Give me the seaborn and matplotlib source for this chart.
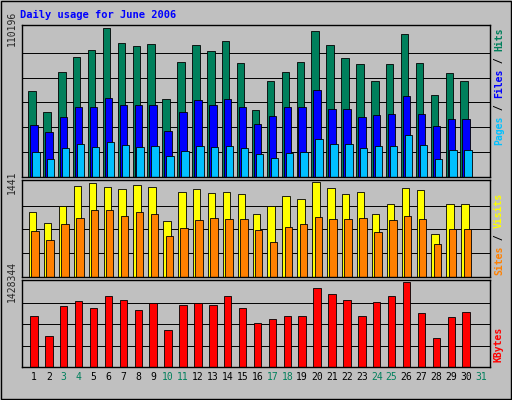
import numpy as np
import matplotlib
matplotlib.use("Agg")
import matplotlib.pyplot as plt
import seaborn as sns

days = np.arange(1, 31)
hits = [63300, 48400, 77500, 88700, 93900, 110196, 99100, 96900, 98300, 57400,
        84900, 97600, 93100, 100600, 84200, 49200, 70800, 77500, 84900, 108000,
        97600, 87900, 83400, 70800, 83400, 105800, 84200, 60300, 76700, 70800]
files = [38700, 33500, 44700, 51400, 52100, 58100, 53600, 53600, 53600, 34300,
         47700, 56600, 52900, 57400, 51400, 39500, 45400, 51400, 51400, 64000,
         50600, 50600, 44700, 46200, 46900, 59600, 46900, 38000, 43200, 43200]
pages = [18600, 13400, 21600, 24600, 22300, 26100, 23800, 22300, 23100, 15600,
         19400, 23100, 22300, 23100, 21600, 17100, 14200, 17900, 18600, 28300,
         24600, 24600, 21600, 23100, 23100, 31300, 23800, 13400, 20100, 20100]
visits = [990, 820, 1070, 1380, 1430, 1360, 1330, 1390, 1360, 850,
          1290, 1330, 1270, 1290, 1260, 960, 1070, 1220, 1180, 1441,
          1350, 1260, 1290, 950, 1100, 1350, 1320, 650, 1100, 1100]
sites = [700, 560, 810, 900, 1020, 1010, 930, 980, 950, 620,
         740, 870, 900, 880, 880, 710, 530, 760, 810, 910,
         880, 880, 900, 680, 870, 930, 880, 500, 730, 730]
kbytes = [860000, 516000, 1015000, 1101000, 981000, 1187000, 1119000, 947000, 1067000, 620000,
          1033000, 1067000, 1033000, 1187000, 981000, 740000, 809000, 860000, 860000, 1325000,
          1222000, 1119000, 860000, 1084000, 1187000, 1428344, 912000, 482000, 843000, 929000]
weekend = [3, 4, 10, 11, 17, 18, 24, 25, 31]

sns.set_style("white")
plt.rcParams['font.family'] = ['DejaVu Sans Mono']
bg = "#c0c0c0"
fig = plt.figure(figsize=(5.12, 4.0), dpi=100, facecolor=bg)

W, H = 512, 400
def make_ax(top, bot):
    ax = fig.add_axes([22 / W, (H - bot) / H, 468 / W, (bot - top) / H])
    ax.set_facecolor(bg)
    for s in ax.spines.values():
        s.set_color("black")
        s.set_linewidth(1)
    ax.tick_params(length=0)
    return ax

def bars(ax, vals, off, color):
    sns.barplot(x=days + off, y=vals, native_scale=True, width=0.5,
                color=color, edgecolor="black", linewidth=0.6, saturation=1, ax=ax)

def grid(ax, vmax, n):
    for k in range(1, n):
        ax.axhline(vmax * k / n, color="black", lw=0.7, zorder=0)

def finish(ax, vmax):
    ax.set_ylim(0, vmax * 1.02)
    ax.set_yticks([vmax])
    ax.set_yticklabels([f"{vmax}"], rotation=90, va="center", fontsize=7)
    ax.set_ylabel("")
    ax.set_xlabel("")
    ax.set_xlim(0.2, 31.6)
    ax.set_xticks([])

ax1 = make_ax(25, 177)
grid(ax1, 110196, 6)
bars(ax1, hits, -0.13, "#00805c")
bars(ax1, files, 0.0, "#0000ff")
bars(ax1, pages, 0.13, "#00c0ff")
finish(ax1, 110196)

ax2 = make_ax(180, 277)
grid(ax2, 1441, 4)
bars(ax2, visits, -0.08, "#ffff00")
bars(ax2, sites, 0.08, "#ff8000")
finish(ax2, 1441)

ax3 = make_ax(280, 367)
grid(ax3, 1428344, 4)
bars(ax3, kbytes, 0.0, "#ff0000")
finish(ax3, 1428344)
ax3.set_xticks(np.arange(1, 32))
ax3.set_xticklabels([str(d) for d in range(1, 32)], fontsize=7)
for lab, d in zip(ax3.get_xticklabels(), range(1, 32)):
    lab.set_color("#00805c" if d in weekend else "black")

fig.text(20 / W, 1 - 15 / H, "Daily usage for June 2006", color="#0000ff",
         fontsize=7.5, fontweight="bold", va="center")

def rlabel(y, parts):
    # stacked rotated label on the right, drawn bottom to top
    x = 499 / W
    t = None
    for txt, col in parts:
        if t is None:
            t = fig.text(x, y, txt, color=col, rotation=90, fontsize=7,
                         ha="center", va="bottom", fontweight="bold")
        else:
            t = plt.annotate(txt, xycoords=t, xy=(0.5, 1), va="bottom", ha="center",
                             rotation=90, color=col, fontsize=7, fontweight="bold")

rlabel(1 - 145 / H, [("Pages", "#00c0ff"), (" / ", "black"), ("Files", "#0000ff"),
                     (" / ", "black"), ("Hits", "#00805c")])
rlabel(1 - 275 / H, [("Sites", "#ff8000"), (" / ", "black"), ("Visits", "#ffff00")])
rlabel(1 - 362 / H, [("KBytes", "#ff0000")])

fig.patches.append(plt.Rectangle((1 / W, 1 / H), 510 / W, 398 / H, transform=fig.transFigure,
                                 fill=False, edgecolor="black", lw=1))
fig.savefig("out.png", dpi=100, facecolor=bg)
